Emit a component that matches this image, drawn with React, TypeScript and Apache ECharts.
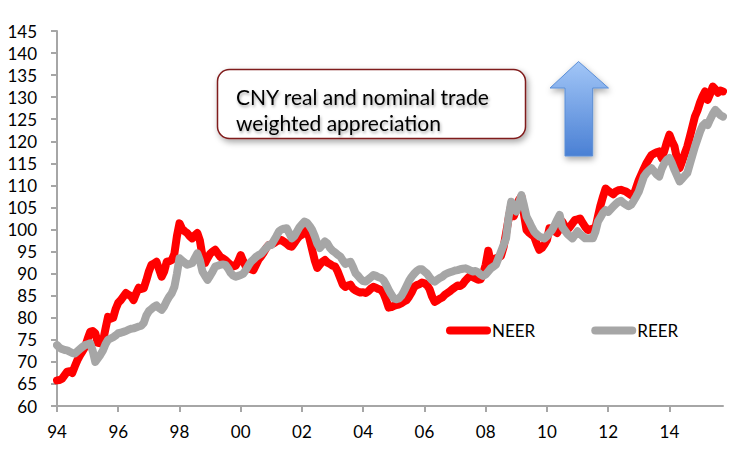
import React, { useEffect, useRef } from "react";
import * as echarts from "echarts";

// Monthly data, Jan 1994 .. Oct 2015
const startYear = 1994;
const neer: number[] = [
  // 1994
  65.8, 65.9, 66.2, 67.0, 67.8, 67.9, 67.5, 69.0, 70.4, 71.5, 72.4, 73.4,
  // 1995
  75.2, 76.8, 77.0, 76.5, 74.3, 74.2, 74.6, 77.5, 80.2, 79.8, 80.0, 82.0,
  // 1996
  83.4, 84.0, 84.8, 85.6, 85.2, 84.9, 84.0, 85.5, 86.8, 86.5, 86.7, 88.5,
  // 1997
  90.5, 92.0, 92.3, 92.7, 91.0, 89.3, 90.5, 92.7, 92.8, 93.1, 94.5, 98.5,
  // 1998
  101.4, 100.2, 99.6, 99.2, 98.5, 98.0, 98.7, 99.2, 97.5, 94.0, 92.4, 93.5,
  // 1999
  94.5, 95.0, 95.4, 94.6, 93.8, 93.5, 93.1, 92.5, 92.0, 91.6, 91.8, 92.8,
  // 2000
  94.2, 92.8, 91.6, 91.2, 91.0, 90.8, 92.0, 93.2, 93.9, 94.8, 95.8, 96.5,
  // 2001
  96.6, 96.9, 97.3, 97.6, 97.6, 97.2, 96.8, 96.3, 96.1, 96.9, 97.8, 98.5,
  // 2002
  98.8, 99.4, 99.9, 97.8, 95.4, 93.0, 91.3, 92.0, 92.7, 93.1, 92.5, 92.2,
  // 2003
  91.8, 91.6, 90.5, 89.0, 87.5, 87.0, 87.3, 87.5, 86.6, 86.2, 85.9, 85.7,
  // 2004
  85.8, 85.6, 86.0, 86.6, 87.0, 86.8, 86.5, 86.3, 85.5, 84.0, 82.3, 82.4,
  // 2005
  82.7, 82.9, 83.0, 83.3, 83.7, 84.0, 84.8, 85.8, 87.0, 87.4, 87.6, 88.0,
  // 2006
  87.8, 87.4, 86.5, 84.8, 83.6, 83.9, 84.3, 84.6, 85.2, 85.6, 86.0, 86.5,
  // 2007
  86.9, 87.3, 87.2, 87.6, 88.4, 89.0, 89.5, 89.2, 88.9, 88.6, 88.7, 90.0,
  // 2008
  92.0, 95.2, 92.7, 93.2, 93.5, 93.6, 94.0, 96.0, 99.2, 102.5, 105.5, 103.0,
  // 2009
  104.5, 106.7, 107.5, 103.5, 99.9, 99.3, 98.8, 98.4, 96.8, 95.4, 95.8, 96.6,
  // 2010
  97.6, 100.3, 100.0, 99.6, 99.2, 100.2, 101.8, 100.8, 99.9, 100.6, 101.4, 102.2,
  // 2011
  102.3, 102.5, 101.5, 100.6, 99.9, 100.0, 100.2, 100.3, 103.0, 105.5, 107.5, 109.3,
  // 2012
  108.8, 108.4, 108.0, 108.6, 108.9, 109.0, 108.8, 108.6, 108.2, 107.8, 107.8, 109.5,
  // 2013
  111.2, 112.5, 113.8, 115.0, 116.0, 116.9, 117.2, 117.5, 117.7, 116.2, 117.8, 119.8,
  // 2014
  121.5, 120.0, 118.8, 116.0, 113.9, 115.5, 117.2, 118.8, 121.0, 123.3, 125.6, 127.0,
  // 2015
  128.8, 130.2, 131.3, 129.4, 130.8, 132.4, 131.8, 131.0, 131.5, 131.3,
];

const reer: number[] = [
  // 1994
  73.8, 73.2, 72.9, 72.7, 72.6, 72.3, 72.0, 71.9, 72.4, 72.9, 73.4, 73.8,
  // 1995
  74.0, 74.2, 72.5, 70.0, 70.8, 71.6, 72.6, 74.0, 75.0, 75.3, 75.6, 76.0,
  // 1996
  76.5, 76.6, 76.8, 77.0, 77.3, 77.5, 77.6, 77.8, 78.0, 78.2, 78.8, 80.5,
  // 1997
  81.5, 82.0, 82.5, 82.8, 82.2, 81.8, 82.6, 83.8, 84.8, 85.6, 87.0, 90.0,
  // 1998
  93.5, 93.0, 92.5, 92.0, 92.2, 92.4, 93.5, 94.6, 93.0, 90.5, 89.5, 88.6,
  // 1999
  89.5, 90.5, 91.6, 91.8, 92.0, 92.1, 92.0, 91.2, 90.2, 89.6, 89.3, 89.5,
  // 2000
  89.7, 90.0, 90.8, 91.8, 92.7, 93.2, 93.8, 94.2, 94.5, 95.2, 95.8, 96.5,
  // 2001
  96.5, 97.5, 98.5, 99.6, 100.0, 100.2, 100.3, 99.2, 98.0, 98.5, 99.5, 100.5,
  // 2002
  101.2, 101.8, 101.5, 100.8, 99.9, 98.5, 96.8, 95.8, 96.5, 97.3, 96.8, 95.8,
  // 2003
  95.2, 94.8, 94.3, 93.9, 93.0, 92.2, 92.5, 92.7, 91.5, 90.1, 89.5, 88.8,
  // 2004
  88.3, 88.2, 88.7, 89.2, 89.7, 89.5, 89.2, 89.0, 88.5, 87.5, 86.3, 85.3,
  // 2005
  84.4, 84.2, 84.4, 85.0, 86.0, 87.2, 88.4, 89.3, 90.0, 90.6, 91.0, 91.0,
  // 2006
  90.5, 90.0, 89.2, 88.5, 88.2, 88.6, 89.0, 89.3, 89.8, 90.1, 90.3, 90.5,
  // 2007
  90.7, 90.8, 91.0, 91.1, 91.2, 91.0, 90.7, 90.5, 90.6, 90.3, 89.8, 89.5,
  // 2008
  89.8, 90.5, 91.2, 91.6, 92.0, 93.5, 95.0, 96.5, 98.0, 102.9, 106.3, 105.0,
  // 2009
  104.1, 106.0, 107.8, 105.5, 102.9, 101.8, 100.6, 99.5, 98.9, 98.4, 98.2, 98.0,
  // 2010
  98.5, 99.2, 99.9, 101.0, 102.2, 103.3, 100.6, 99.8, 99.0, 98.5, 98.0, 98.8,
  // 2011
  99.6, 99.0, 98.5, 98.0, 98.0, 98.0, 98.0, 99.5, 101.8, 102.8, 103.8, 104.4,
  // 2012
  104.0, 104.6, 105.2, 105.8, 106.3, 106.5, 106.0, 105.6, 105.3, 105.6, 106.5, 107.5,
  // 2013
  108.6, 110.3, 112.0, 112.8, 113.4, 113.9, 113.2, 112.5, 112.0, 113.8, 115.0, 115.8,
  // 2014
  116.2, 115.0, 113.5, 112.2, 110.9, 111.5, 112.2, 112.8, 114.8, 116.8, 118.8, 120.5,
  // 2015
  122.2, 123.5, 124.1, 123.7, 125.0, 126.2, 127.1, 126.5, 125.9, 125.6,
];

// Category labels: "YY-MM"
const categories: string[] = neer.map((_, i) => {
  const y = startYear + Math.floor(i / 12);
  const m = (i % 12) + 1;
  return String(y % 100).padStart(2, "0") + "-" + String(m).padStart(2, "0");
});

const seriesNames = ["NEER", "REER"];
const seriesColors = ["#ff0000", "#a6a6a6"];
const annotationLines = ["CNY real and nominal trade", "weighted appreciation"];

const FONT = "Lato, 'Open Sans', 'DejaVu Sans', sans-serif";

export default function App() {
  const ref = useRef<HTMLDivElement>(null);

  useEffect(() => {
    if (!ref.current) return;
    const chart = echarts.init(ref.current, undefined, { renderer: "svg" });
    const axisColor = "#a6a6a6";
    chart.setOption({
      animation: false,
      backgroundColor: "#ffffff",
      textStyle: { fontFamily: FONT },
      grid: { left: 57, right: 27, top: 31, bottom: 45 },
      xAxis: {
        type: "category",
        data: categories,
        boundaryGap: false,
        axisLine: { lineStyle: { color: axisColor, width: 2 } },
        axisTick: {
          interval: 23,
          length: 6,
          lineStyle: { color: axisColor, width: 2 },
        },
        axisLabel: {
          interval: 23,
          margin: 17,
          color: "#000",
          fontSize: 17,
          fontFamily: FONT,
          formatter: (v: string) => v.split("-")[0],
        },
        splitLine: { show: false },
      },
      yAxis: {
        type: "value",
        min: 60,
        max: 145,
        interval: 5,
        axisLine: { show: true, lineStyle: { color: axisColor, width: 2 } },
        axisTick: { show: true, length: 6, lineStyle: { color: axisColor, width: 2 } },
        axisLabel: {
          margin: 20,
          color: "#000",
          fontSize: 17,
          fontFamily: FONT,
        },
        splitLine: { show: false },
      },
      legend: {
        left: 441,
        top: 317,
        itemWidth: 45,
        itemHeight: 8,
        itemGap: 56,
        icon: "path://M4,0 L41,0 A4,4 0 0 1 41,8 L4,8 A4,4 0 0 1 4,0 Z",
        textStyle: { fontSize: 17, color: "#000", fontFamily: FONT, padding: [0, 0, 0, -4] },
        data: seriesNames,
      },
      series: [
        {
          name: seriesNames[0],
          type: "line",
          data: neer,
          symbol: "none",
          color: seriesColors[0],
          lineStyle: { width: 8, color: seriesColors[0], cap: "round", join: "round" },
        },
        {
          name: seriesNames[1],
          type: "line",
          data: reer,
          symbol: "none",
          color: seriesColors[1],
          lineStyle: { width: 8, color: seriesColors[1], cap: "round", join: "round" },
        },
      ],
      graphic: [
        {
          type: "rect",
          shape: { x: 217.5, y: 69.5, width: 308, height: 69, r: 12 },
          style: {
            fill: "#ffffff",
            stroke: "#7f1a1a",
            lineWidth: 1.5,
            shadowBlur: 6,
            shadowColor: "rgba(0,0,0,0.35)",
            shadowOffsetX: 2,
            shadowOffsetY: 3,
          },
          z: 10,
        },
        {
          type: "text",
          x: 236,
          y: 83,
          style: {
            text: annotationLines.join("\n"),
            fontSize: 21,
            lineHeight: 26,
            fontFamily: FONT,
            fill: "#000",
            textShadowColor: "rgba(0,0,0,0.35)",
            textShadowBlur: 3,
            textShadowOffsetX: 1,
            textShadowOffsetY: 2,
          },
          z: 11,
        },
        {
          type: "polygon",
          shape: {
            points: [
              [578.5, 61.5],
              [608.5, 88],
              [592.7, 88],
              [592.7, 156],
              [565, 156],
              [565, 88],
              [550, 88],
            ],
          },
          style: {
            fill: new echarts.graphic.LinearGradient(0, 0, 0, 1, [
              { offset: 0, color: "#a2c6f7" },
              { offset: 1, color: "#4a80d4" },
            ]),
            stroke: "#5b8ed6",
            lineWidth: 1,
            shadowBlur: 6,
            shadowColor: "rgba(0,0,0,0.35)",
            shadowOffsetX: 1,
            shadowOffsetY: 3,
          },
          z: 10,
        },
      ],
    });
    return () => chart.dispose();
  }, []);

  return (
    <div
      ref={ref}
      style={{ position: "absolute", left: 0, top: 0, width: 750, height: 451 }}
    />
  );
}
